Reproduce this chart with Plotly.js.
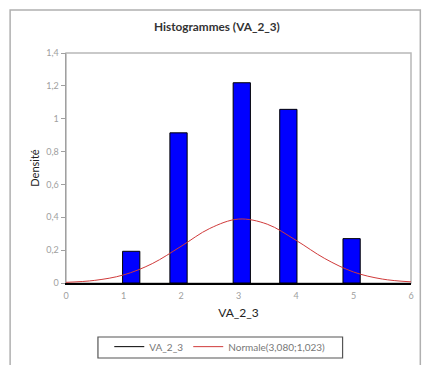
<!DOCTYPE html>
<html>
<head>
<meta charset="utf-8">
<script src="https://cdn.plot.ly/plotly-3.0.1.min.js"></script>
<style>
html,body{margin:0;padding:0;background:#fff;}
#chart{width:427px;height:365px;}
</style>
</head>
<body>
<div id="chart"></div>
<script>
// Histogram bars (bin centres and densities)
const barX = [1.134, 1.957, 3.057, 3.867, 4.967];
const barDensity = [0.193, 0.914, 1.219, 1.057, 0.27];
const barWidth = 0.3;

// Normal(3.080; 1.023) curve, read at points
const curveX = [0, 0.5, 1, 1.5, 2, 2.5, 3, 3.5, 4, 4.5, 5, 5.5, 6];
const curveY = [0.004, 0.016, 0.049, 0.118, 0.223, 0.332, 0.389, 0.358, 0.260, 0.149, 0.067, 0.024, 0.007];

const yTicks = [0, 0.2, 0.4, 0.6, 0.8, 1, 1.2, 1.4];
const yTickText = ['0', '0,2', '0,4', '0,6', '0,8', '1', '1,2', '1,4'];
const xTicks = [0, 1, 2, 3, 4, 5, 6];

const FONT = 'Lato, "Open Sans", sans-serif';

const traces = [
  {
    type: 'bar', x: barX, y: barDensity, width: barWidth,
    marker: {color: '#0000ff', line: {color: '#000000', width: 1}},
    showlegend: false, hoverinfo: 'skip'
  },
  {
    type: 'scatter', mode: 'lines', x: [null], y: [null], name: 'VA_2_3',
    line: {color: '#000000', width: 1}
  },
  {
    type: 'scatter', mode: 'lines', x: curveX, y: curveY, name: 'Normale(3,080;1,023)',
    line: {color: '#d03a3a', width: 1, shape: 'spline', smoothing: 1}
  }
];

const layout = {
  width: 427, height: 365,
  margin: {l: 66, r: 15.5, t: 53, b: 82, autoexpand: false},
  paper_bgcolor: '#ffffff', plot_bgcolor: '#ffffff',
  separators: ', ',
  font: {family: FONT, size: 9, color: '#808080'},
  title: {text: 'Histogrammes (VA_2_3)', font: {family: FONT, size: 11.8, color: '#333333', weight: 'bold'},
          x: 0.508, xanchor: 'center', y: 0.926, yanchor: 'middle'},
  bargap: 0,
  xaxis: {
    range: [0, 6], tickvals: xTicks, ticktext: xTicks.map(String),
    showgrid: false, zeroline: false, automargin: false,
    showline: true, linecolor: '#000000', linewidth: 1.5,
    ticks: '', ticklabelstandoff: 4, tickfont: {size: 9, color: '#a0a0a0'},
    title: {text: 'VA_2_3', font: {size: 12, color: '#222222'}, standoff: 8}
  },
  yaxis: {
    range: [0, 1.4], tickvals: yTicks, ticktext: yTickText,
    showgrid: false, zeroline: false, automargin: false,
    showline: true, linecolor: '#a0a0a0', linewidth: 1.5,
    ticks: 'outside', ticklen: 4, tickcolor: '#a0a0a0',
    tickfont: {size: 9, color: '#a0a0a0'},
    title: {text: 'Densité', font: {size: 11, color: '#222222'}, standoff: 4}
  },
  legend: {
    orientation: 'h', x: 0.4457, xanchor: 'center',
    yref: 'container', y: 0.09, yanchor: 'top',
    borderwidth: 0, bgcolor: 'rgba(0,0,0,0)',
    font: {size: 10, color: '#777777'}, itemwidth: 30, tracegroupgap: 0
  },
  shapes: [
    {type: 'rect', xref: 'paper', yref: 'paper', x0: -0.162, x1: 1.027, y0: -0.45, y1: 1.187,
     line: {color: '#b0b0b0', width: 1.5}, layer: 'below'},
    {type: 'rect', xref: 'paper', yref: 'paper', x0: 0, x1: 1, y0: 0, y1: 1,
     line: {color: '#b8b8b8', width: 1.5}, layer: 'below'},
    {type: 'rect', xref: 'paper', yref: 'paper', x0: 0.0926, x1: 0.8017, y0: -0.326, y1: -0.2348,
     line: {color: '#555555', width: 1.2}, layer: 'below'}
  ]
};

Plotly.newPlot('chart', traces, layout, {displayModeBar: false, staticPlot: true});
</script>
</body>
</html>
